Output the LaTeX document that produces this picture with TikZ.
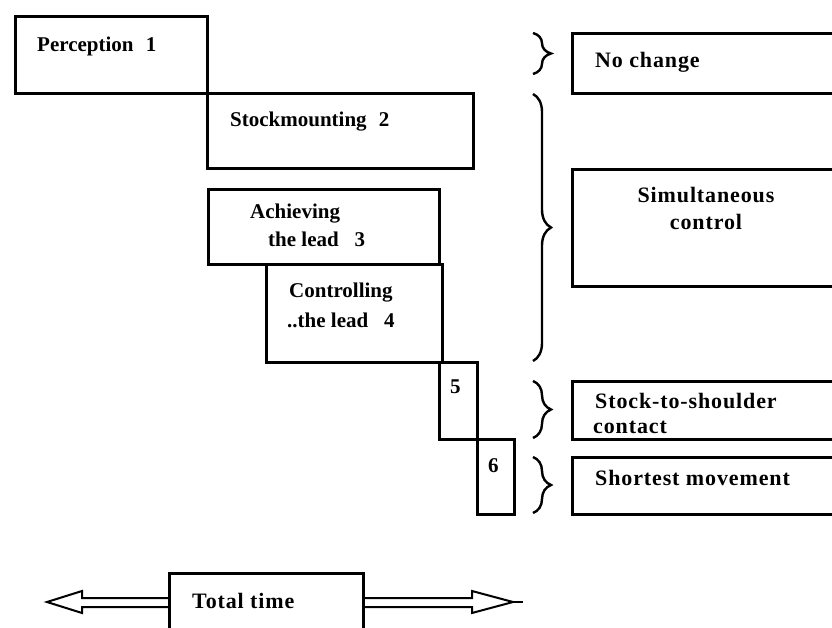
\documentclass[tikz,border=0pt]{standalone}
\usepackage{fontspec}
\setmainfont{Liberation Serif}
\usetikzlibrary{decorations.pathreplacing}
\begin{document}
\begin{tikzpicture}[x=1pt,y=-1pt,
  box/.style={draw,line width=2.8pt,inner sep=0pt,anchor=north west},
  lbl/.style={anchor=base west,inner sep=0pt,font=\bfseries\fontsize{21}{24}\selectfont},
  rlbl/.style={anchor=base west,inner sep=0pt,font=\bfseries\fontsize{22}{24}\selectfont\addfontfeature{LetterSpace=4}},
  brc/.style={decorate,decoration={brace,amplitude=18pt,aspect=0.5},line width=2.4pt},
  harrow/.style={draw,line width=2pt,line join=miter}]
\useasboundingbox (0,0) rectangle (832,628);
\clip (0,0) rectangle (832,628);
% left step boxes
\node[box,minimum width=192pt,minimum height=77pt] (b1) at (14,15) {};
\node[box,minimum width=266pt,minimum height=75pt] (b2) at (206,92) {};
\node[box,minimum width=231pt,minimum height=75pt] (b3) at (207,188) {};
\node[box,minimum width=176pt,minimum height=98pt] (b4) at (265,263) {};
\node[box,minimum width=38pt,minimum height=77pt] (b5) at (438,361) {};
\node[box,minimum width=37pt,minimum height=75pt] (b6) at (476,438) {};
\node[lbl] (t1) at (37,52) {Perception\,\, 1};
\node[lbl] (t2) at (230,127) {Stockmounting\,\, 2};
\node[lbl] (t3a) at (250,219) {Achieving};
\node[lbl] (t3b) at (268,247) {the lead\,\,\, 3};
\node[lbl] (t4a) at (289,298) {Controlling};
\node[lbl] (t4b) at (287,327) {..the lead\,\,\, 4};
\node[lbl] (t5) at (450,393) {5};
\node[lbl] (t6) at (488,472) {6};
% right boxes (open past right edge)
\node[box,minimum width=280pt,minimum height=60pt] (r1) at (571,32) {};
\node[box,minimum width=280pt,minimum height=117pt] (r2) at (571,168) {};
\node[box,minimum width=280pt,minimum height=58pt] (r3) at (571,380) {};
\node[box,minimum width=280pt,minimum height=57pt] (r4) at (571,456) {};
\node[rlbl] (s1) at (595,68) {No change};
\node[rlbl,anchor=base] (s2a) at (706,203) {Simultaneous};
\node[rlbl,anchor=base] (s2b) at (706,230) {control};
\node[rlbl] (s3a) at (595,408) {Stock-to-shoulder};
\node[rlbl] (s3b) at (593,433) {contact};
\node[rlbl] (s4) at (595,485) {Shortest movement};
% braces
\coordinate (k1a) at (533,33); \coordinate (k1b) at (533,74);
\coordinate (k2a) at (533,94); \coordinate (k2b) at (533,361);
\coordinate (k3a) at (533,381); \coordinate (k3b) at (533,438);
\coordinate (k4a) at (533,457); \coordinate (k4b) at (533,513);
\draw[brc] (k1a) -- (k1b);
\draw[brc] (k2a) -- (k2b);
\draw[brc] (k3a) -- (k3b);
\draw[brc] (k4a) -- (k4b);
% total time
\node[box,minimum width=194pt,minimum height=70pt] (tt) at (168,572) {};
\node[rlbl] (ttl) at (192,608) {Total time};
\draw[harrow] (tt.west |- 0,598) -- (82,598) -- (82,591) -- (47,602) -- (82,613) -- (82,607) -- (tt.west |- 0,607);
\draw[harrow] (tt.east |- 0,598) -- (472,598) -- (472,591) -- (513,602) -- (472,613) -- (472,607) -- (tt.east |- 0,607);
\coordinate (tipR) at (523,602);
\draw[line width=1.5pt] (513,602) -- (tipR);
\end{tikzpicture}
\end{document}
